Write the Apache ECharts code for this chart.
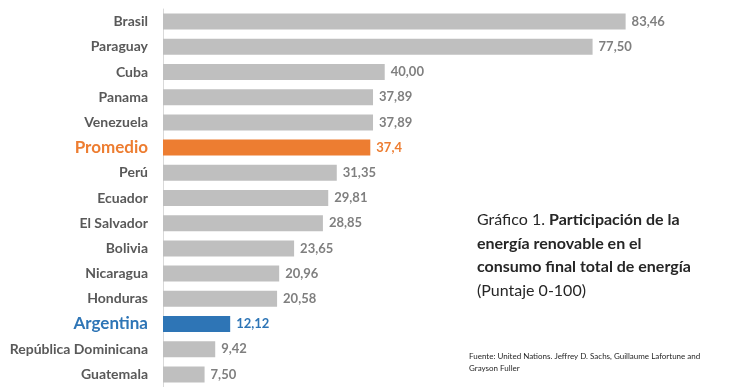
<!DOCTYPE html>
<html><head><meta charset="utf-8">
<script src="https://cdn.jsdelivr.net/npm/echarts@6/dist/echarts.min.js"></script>
<style>html,body{margin:0;padding:0;background:#fff}#c{width:730px;height:387px}</style>
</head><body><div id="c"></div>
<script>
const categories = ['Brasil','Paraguay','Cuba','Panama','Venezuela','Promedio','Perú','Ecuador','El Salvador','Bolivia','Nicaragua','Honduras','Argentina','República Dominicana','Guatemala'];
const values = [83.46,77.50,40.00,37.89,37.89,37.4,31.35,29.81,28.85,23.65,20.96,20.58,12.12,9.42,7.50];
const valueLabels = ['83,46','77,50','40,00','37,89','37,89','37,4','31,35','29,81','28,85','23,65','20,96','20,58','12,12','9,42','7,50'];
const highlight = {'Promedio':'#ED7D31','Argentina':'#2E75B6'};

const FONT = 'Lato';
const chart = echarts.init(document.getElementById('c'), null, {renderer:'canvas'});
chart.setOption({
  animation:false,
  grid:{left:163, top:9, width:554.3, height:381.4, containLabel:false},
  xAxis:{type:'value', min:0, max:100, show:false, splitLine:{show:false}},
  yAxis:{type:'category', data:categories, inverse:true,
    axisLine:{show:true, lineStyle:{color:'#D9D9D9', width:1}},
    axisTick:{show:false},
    axisLabel:{margin:15, fontFamily:FONT, fontWeight:'bold', fontSize:14, color:'#595959',
      formatter:function(v){ if(v==='Promedio') return '{o|'+v+'}'; if(v==='Argentina') return '{a|'+v+'}'; return v; },
      rich:{o:{color:'#ED7D31', fontSize:17, fontWeight:'bold', fontFamily:FONT}, a:{color:'#2E75B6', fontSize:17, fontWeight:'bold', fontFamily:FONT}}
    }},
  series:[{type:'bar', barWidth:16,
    data:values.map(function(v,i){
      const c = highlight[categories[i]];
      return {value:v, itemStyle:{color:c||'#BFBFBF'}, label:{color:c||'#7F7F7F'}};
    }),
    label:{show:true, position:'right', distance:6, fontFamily:FONT, fontWeight:'bold', fontSize:13,
      formatter:function(p){return valueLabels[p.dataIndex];}}
  }],
  graphic:[
    {type:'text', left:477, top:212, style:{
      text:'{n|Gráfico 1. }{b|Participación de la}\n{b|energía renovable en el}\n{b|consumo final total de energía}\n{n|(Puntaje 0-100)}',
      rich:{n:{fontFamily:FONT, fontSize:16, fontWeight:'normal', fill:'#262626', lineHeight:23.5},
            b:{fontFamily:FONT, fontSize:16, fontWeight:'bold', fill:'#262626', lineHeight:23.5}}
    }},
    {type:'text', left:469, top:350, style:{
      text:'Fuente: United Nations. Jeffrey D. Sachs, Guillaume Lafortune and\nGrayson Fuller',
      fontFamily:FONT, fontSize:8, fill:'#262626', lineHeight:12
    }}
  ]
});
</script></body></html>
